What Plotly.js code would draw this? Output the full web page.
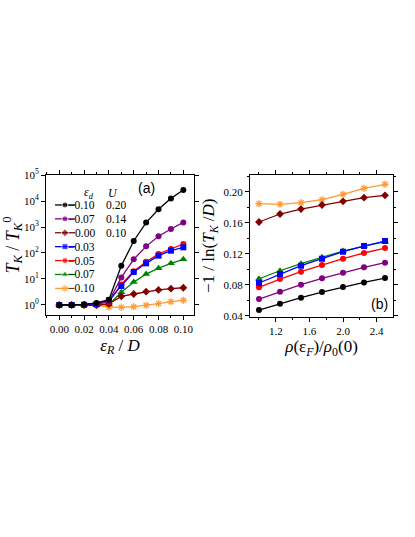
<!DOCTYPE html>
<html>
<head>
<meta charset="utf-8">
<script src="https://cdn.plot.ly/plotly-3.0.1.min.js"></script>
<style>html,body{margin:0;padding:0;background:#fff;}#chart{width:415px;height:537px;}</style>
</head>
<body>
<div id="chart"></div>
<script>
// ---------- Panel (a) data ----------
const epsR = [0.00, 0.01, 0.02, 0.03, 0.04, 0.05, 0.06, 0.07, 0.08, 0.09, 0.10];
const aBlack   = [1, 1, 1.05, 1.2, 1.6, 32, 290, 1480, 4800, 12600, 26500];
const aPurple  = [1, 1, 1.05, 1.15, 1.4, 11.5, 57, 180, 440, 840, 1500];
const aDarkred = [1, 1, 1, 1, 1.1, 2.15, 2.65, 3.25, 3.8, 4.25, 4.6];
const aBlue    = [1, 1, 1.02, 1.08, 1.5, 5.4, 18.5, 40, 79, 123, 165];
const aRed     = [1, 1, 1.02, 1.06, 1.3, 6.2, 20, 46, 92, 143, 222];
const aGreen   = [1, 1, 1, 0.98, 1.05, 3.1, 7.6, 15.5, 26, 40, 57];
const aOrange  = [1, 1, 0.97, 0.94, 0.84, 0.81, 0.86, 0.97, 1.13, 1.34, 1.51];

// ---------- Panel (b) data ----------
const rhoRatio = [1.00, 1.25, 1.50, 1.75, 2.00, 2.25, 2.50];
const bBlack   = [0.0473, 0.0555, 0.0632, 0.0705, 0.0770, 0.0830, 0.0886];
const bPurple  = [0.0615, 0.0710, 0.0800, 0.0882, 0.0955, 0.1024, 0.1084];
const bRed     = [0.0766, 0.0873, 0.0968, 0.1054, 0.1135, 0.1209, 0.1273];
const bBlue    = [0.0822, 0.0938, 0.1045, 0.1135, 0.1226, 0.1299, 0.1363];
const bGreen   = [0.0877, 0.0980, 0.1071, 0.1153, 0.1234, 0.1299, 0.1355];
const bDarkred = [0.1609, 0.1712, 0.1776, 0.1828, 0.1875, 0.1923, 0.1953];
const bOrange  = [0.1845, 0.1837, 0.1858, 0.1897, 0.1966, 0.2043, 0.2095];

// ---------- Legend labels ----------
const epsDLabels = ['\u22120.10', '\u22120.07', '0.00', '\u22120.03', '\u22120.05', '\u22120.07', '\u22120.10'];
const uLabels    = ['0.20', '0.14', '0.10', '', '', '', ''];

// ---------- Tick labels ----------
const logTickVals = [1, 10, 100, 1000, 10000, 100000];
const logTickText = ['10<sup>0</sup>', '10<sup>1</sup>', '10<sup>2</sup>', '10<sup>3</sup>', '10<sup>4</sup>', '10<sup>5</sup>'];

// ---------- Styles ----------
const series = [
  {a: aBlack,   b: bBlack,   color: '#000000', symbol: 'circle'},
  {a: aPurple,  b: bPurple,  color: '#800080', symbol: 'circle'},
  {a: aDarkred, b: bDarkred, color: '#800000', symbol: 'diamond'},
  {a: aBlue,    b: bBlue,    color: '#0000ff', symbol: 'square'},
  {a: aRed,     b: bRed,     color: '#ff0000', symbol: 'circle'},
  {a: aGreen,   b: bGreen,   color: '#008000', symbol: 'triangle-up'},
  {a: aOrange,  b: bOrange,  color: '#ff9933', symbol: 'asterisk-open'}
];

function markerFor(s, size) {
  const m = {symbol: s.symbol, size: size, color: s.color};
  if (s.symbol === 'asterisk-open') m.line = {color: s.color, width: 1.2};
  return m;
}

const traces = [];
const order = [6, 5, 2, 4, 3, 1, 0];
order.forEach(i => {
  const s = series[i];
  traces.push({x: epsR, y: s.a, xaxis: 'x', yaxis: 'y', mode: 'lines+markers',
    line: {color: s.color, width: 1.3}, marker: markerFor(s, s.symbol === 'triangle-up' ? 7 : 6),
    showlegend: false, hoverinfo: 'skip'});
});
order.forEach(i => {
  const s = series[i];
  traces.push({x: rhoRatio, y: s.b, xaxis: 'x2', yaxis: 'y2', mode: 'lines+markers',
    line: {color: s.color, width: 1.3}, marker: markerFor(s, s.symbol === 'triangle-up' ? 7 : 6),
    showlegend: false, hoverinfo: 'skip'});
});

// Legend samples on an overlaying unit axis of panel (a)
const legTop = 0.786, legStep = 0.0993;
const legX = [0.061, 0.128, 0.196];
const annotations = [];
series.forEach((s, i) => {
  const yy = legTop - i * legStep;
  const mk = markerFor(s, 6);
  mk.size = [0, s.symbol === 'triangle-up' ? 7 : 6, 0];
  traces.push({x: legX, y: [yy, yy, yy], xaxis: 'x3', yaxis: 'y3', mode: 'lines+markers',
    line: {color: s.color, width: 1.3}, marker: mk, showlegend: false, hoverinfo: 'skip'});
  annotations.push({xref: 'x3', yref: 'y3', x: 0.345, y: yy, xanchor: 'right', yanchor: 'middle',
    text: epsDLabels[i], showarrow: false, font: {family: 'Liberation Serif', size: 11.5, color: '#000'}});
  if (uLabels[i]) annotations.push({xref: 'x3', yref: 'y3', x: 0.39, y: yy, xanchor: 'left', yanchor: 'middle',
    text: uLabels[i], showarrow: false, font: {family: 'Liberation Serif', size: 11.5, color: '#000'}});
});
annotations.push({xref: 'x3', yref: 'y3', x: 0.29, y: 0.871, xanchor: 'center', yanchor: 'middle',
  text: '<i>\u03b5</i><sub><i>d</i></sub>', showarrow: false, font: {family: 'Liberation Serif', size: 12, color: '#000'}});
annotations.push({xref: 'x3', yref: 'y3', x: 0.453, y: 0.871, xanchor: 'center', yanchor: 'middle',
  text: '<i>U</i>', showarrow: false, font: {family: 'Liberation Serif', size: 12, color: '#000'}});
annotations.push({xref: 'x3', yref: 'y3', x: 0.682, y: 0.907, xanchor: 'center', yanchor: 'middle',
  text: '(a)', showarrow: false, font: {family: 'Liberation Sans', size: 14, color: '#000'}});
annotations.push({xref: 'paper', yref: 'paper', x: 379 / 415, y: 1 - 304 / 537, xanchor: 'center', yanchor: 'middle',
  text: '(b)', showarrow: false, font: {family: 'Liberation Sans', size: 14, color: '#000'}});

const tickFont = {family: 'Liberation Serif', size: 11, color: '#000'};
const titleFont = {family: 'Liberation Serif', size: 17, color: '#000'};
const axBase = {showline: true, linecolor: '#000', linewidth: 1, mirror: 'ticks', ticks: 'outside',
  ticklen: 4, tickwidth: 1, tickcolor: '#000', showgrid: false, zeroline: false, tickfont: tickFont};

const layout = {
  width: 415, height: 537,
  margin: {l: 0, r: 0, t: 0, b: 0},
  paper_bgcolor: '#fff', plot_bgcolor: 'rgba(0,0,0,0)',
  showlegend: false,
  xaxis: Object.assign({}, axBase, {domain: [46 / 415, 194 / 415], anchor: 'y', range: [-0.0107, 0.1086],
    tickmode: 'linear', tick0: 0, dtick: 0.02, tickformat: '.2f',
    minor: {dtick: 0.01, ticklen: 2, ticks: 'outside', tickcolor: '#000'},
    title: {text: '<i>\u03b5</i><sub><i>R</i></sub> / <i>D</i>', font: titleFont, standoff: 4}}),
  yaxis: Object.assign({}, axBase, {domain: [1 - 315 / 537, 1 - 175 / 537], anchor: 'x', type: 'log',
    range: [-0.385, 5], tickmode: 'array', tickvals: logTickVals, ticktext: logTickText,
    title: {text: '<i>T</i><sub><i>K</i></sub> / <i>T</i><sub><i>K</i></sub><sup>0</sup>', font: {family: 'Liberation Serif', size: 18, color: '#000'}, standoff: 4}}),
  xaxis2: Object.assign({}, axBase, {domain: [250 / 415, 393 / 415], anchor: 'y2', range: [0.893, 2.595],
    tickmode: 'linear', tick0: 0, dtick: 0.4, tickformat: '.1f',
    minor: {dtick: 0.2, ticklen: 2, ticks: 'outside', tickcolor: '#000'},
    title: {text: '<i>\u03c1</i>(\u03b5<sub><i>F</i></sub>)/<i>\u03c1</i><sub>0</sub>(0)', font: titleFont, standoff: 4}}),
  yaxis2: Object.assign({}, axBase, {domain: [1 - 316.5 / 537, 1 - 175 / 537], anchor: 'x2', range: [0.039, 0.2215],
    tickmode: 'linear', tick0: 0, dtick: 0.04, tickformat: '.2f',
    minor: {dtick: 0.02, ticklen: 2, ticks: 'outside', tickcolor: '#000'},
    title: {text: '\u22121 / ln(<i>T</i><sub><i>K</i></sub> /<i>D</i>)', font: titleFont, standoff: 4}}),
  xaxis3: {overlaying: 'x', anchor: 'y3', range: [0, 1], visible: false, fixedrange: true},
  yaxis3: {overlaying: 'y', anchor: 'x3', range: [0, 1], visible: false, fixedrange: true},
  annotations: annotations
};

Plotly.newPlot('chart', traces, layout, {staticPlot: true, displayModeBar: false});
</script>
</body>
</html>
